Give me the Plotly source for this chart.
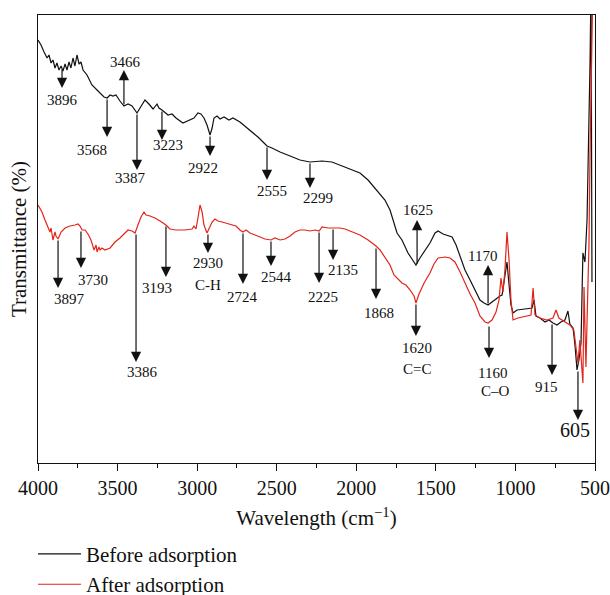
import plotly.graph_objects as go

# ---------------- data (wavenumber cm^-1, transmittance in arbitrary units) ----------------
before_wn = [4000, 3981, 3962, 3943, 3931, 3918, 3906, 3893, 3881, 3868, 3855, 3843, 3830, 3818,
             3805, 3793, 3780, 3768, 3755, 3742, 3730, 3717, 3692, 3661, 3629, 3604, 3585, 3566,
             3547, 3529, 3510, 3485, 3460, 3434, 3409, 3378, 3353, 3328, 3303, 3277, 3252, 3240,
             3221, 3202, 3183, 3158, 3133, 3089, 3051, 3020, 2995, 2976, 2957, 2938, 2919, 2906,
             2894, 2875, 2856, 2831, 2800, 2775, 2731, 2668, 2618, 2586, 2561, 2530, 2479, 2416,
             2354, 2291, 2215, 2153, 2102, 2039, 1977, 1926, 1882, 1851, 1820, 1788, 1763, 1744,
             1713, 1675, 1650, 1625, 1600, 1568, 1537, 1505, 1486, 1455, 1398, 1373, 1348, 1317,
             1285, 1254, 1223, 1197, 1172, 1147, 1116, 1097, 1084, 1072, 1053, 1040, 1028, 1015,
             990, 940, 896, 883, 871, 846, 814, 789, 764, 739, 714, 689, 670, 658, 638, 626, 613,
             601, 588, 576, 563, 550, 538, 531, 525, 519]
before_t = [423, 418, 411, 405, 408, 400, 403, 395, 400, 393, 397, 392, 399, 393,
            401, 395, 405, 397, 408, 399, 401, 393, 388, 378, 373, 369, 366, 365,
            368, 367, 368, 362, 357, 359, 357, 350, 357, 363, 359, 354, 359, 355,
            353, 350, 348, 349, 345, 340, 343, 345, 350, 349, 345, 338, 328, 335,
            345, 347, 344, 346, 343, 345, 341, 333, 326, 321, 317, 315, 311, 307,
            303, 301, 302, 301, 298, 294, 290, 283, 275, 269, 263, 253, 241, 230,
            223, 210, 204, 198, 205, 213, 220, 230, 232, 229, 226, 218, 206, 193,
            183, 173, 163, 160, 158, 161, 165, 167, 168, 181, 201, 178, 158, 150,
            153, 154, 155, 163, 147, 145, 141, 143, 140, 138, 141, 143, 152, 139, 135, 118, 93,
            103, 120, 210, 201, 243, 336, 403, 480, 181]

after_wn = [4000, 3975, 3956, 3937, 3925, 3918, 3906, 3893, 3887, 3874, 3855, 3830, 3799, 3768,
            3748, 3736, 3723, 3704, 3686, 3667, 3648, 3635, 3629, 3617, 3610, 3598, 3579, 3547,
            3516, 3485, 3453, 3434, 3409, 3390, 3372, 3353, 3334, 3321, 3296, 3265, 3233, 3196,
            3171, 3133, 3076, 3032, 3020, 3007, 2995, 2982, 2969, 2957, 2938, 2925, 2906, 2888,
            2869, 2844, 2806, 2756, 2731, 2712, 2693, 2668, 2636, 2605, 2574, 2536, 2511, 2479,
            2448, 2416, 2385, 2354, 2322, 2291, 2259, 2234, 2215, 2177, 2146, 2102, 2071, 2027,
            1977, 1926, 1876, 1851, 1820, 1788, 1763, 1744, 1713, 1688, 1662, 1637, 1625, 1606,
            1574, 1537, 1512, 1486, 1442, 1411, 1380, 1348, 1317, 1285, 1254, 1223, 1191, 1172,
            1147, 1122, 1103, 1091, 1078, 1066, 1053, 1040, 1028, 1015, 984, 940, 902, 889, 877,
            846, 802, 764, 745, 727, 708, 683, 658, 633, 613, 607, 595, 576, 569, 557, 544, 538,
            531, 519, 513]
after_t = [258, 251, 243, 235, 231, 235, 223, 231, 227, 224, 231, 235, 237, 238,
           239, 237, 233, 233, 229, 223, 213, 218, 211, 216, 213, 215, 213, 215,
           221, 225, 230, 233, 232, 230, 238, 246, 251, 248, 247, 245, 242, 238,
           234, 233, 233, 234, 237, 234, 245, 258, 251, 238, 230, 235, 241, 244,
           242, 241, 239, 237, 233, 231, 233, 230, 228, 226, 224, 223, 225, 223,
           224, 227, 231, 233, 233, 232, 233, 232, 236, 235, 235, 235, 234, 231,
           228, 223, 217, 213, 206, 198, 188, 185, 180, 178, 173, 167, 160, 169,
           180, 190, 199, 205, 206, 205, 201, 191, 180, 169, 160, 147, 141, 140,
           143, 151, 163, 185, 171, 193, 231, 203, 163, 143, 145, 147, 148, 175, 148,
           145, 143, 145, 153, 145, 143, 141, 138, 133, 108, 100, 123, 80, 176, 96, 180, 216,
           313, 480, 480]

# ---------------- peak annotations ----------------
# label, arrow x (cm^-1), arrow tail (on curve), arrow head, label x, label y
before_labels = ["3896", "3466", "3568", "3387", "3223", "2922", "2555", "2299", "1625", "1170"]
before_arrow_x = [3849, 3460, 3566, 3378, 3221, 2919, 2561, 2291, 1618, 1172]
before_tail = [395, 357, 365, 350, 353, 328, 317, 301, 198, 158]
before_head = [375, 393, 326, 293, 323, 307, 283, 275, 243, 198]
before_text_x = [3843, 3453, 3661, 3416, 3183, 2963, 2530, 2241, 1612, 1204]
before_text_y = [363, 401, 313, 285, 318, 295, 272, 265, 253, 207]

after_labels = ["3897", "3730", "3386", "3193", "2930", "2724", "2544", "2225", "2135", "1868",
                "1620", "1160", "915"]
after_arrow_x = [3874, 3730, 3384, 3196, 2932, 2712, 2536, 2234, 2146, 1876, 1625, 1166, 770]
after_tail = [224, 233, 230, 238, 230, 231, 223, 232, 235, 216, 160, 138, 140]
after_head = [175, 195, 101, 186, 210, 179, 197, 180, 203, 164, 127, 105, 88]
after_text_x = [3799, 3654, 3346, 3252, 2932, 2712, 2504, 2209, 2083, 1857, 1618, 1147, 802]
after_text_y = [164, 183, 91, 175, 200, 166, 186, 166, 193, 150, 115, 90, 76]

group_labels = ["C-H", "C=C", "C\u2013O"]
group_x = [2932, 1618, 1128]
group_y = [178, 94, 72]

big_label = "605"
big_arrow_x = 607
big_tail = 93
big_head = 43
big_text_x = 626
big_text_y = 33

tick_vals = [4000, 3500, 3000, 2500, 2000, 1500, 1000, 500]
tick_text = [str(v) for v in tick_vals]

FONT = "Liberation Serif"
BLACK = "#111111"
RED = "#e3241b"

fig = go.Figure()
fig.add_trace(go.Scatter(x=before_wn, y=before_t, mode="lines", name="Before adsorption",
                         line=dict(color=BLACK, width=1.2), legendgroup="a"))
fig.add_trace(go.Scatter(x=after_wn, y=after_t, mode="lines", name="After adsorption",
                         line=dict(color=RED, width=1.2), legendgroup="b"))

annotations = []


def arrow(x, tail, head):
    return dict(x=x, y=head, ax=x, ay=tail, xref="x", yref="y", axref="x", ayref="y",
                text="", showarrow=True, arrowhead=2, arrowsize=1.7, arrowwidth=1.2,
                arrowcolor=BLACK)


def label(text, x, y, size=15):
    return dict(x=x, y=y, xref="x", yref="y", text=text, showarrow=False,
                font=dict(family=FONT, size=size, color=BLACK))


for lab, ax_, t, h, tx, ty in zip(before_labels, before_arrow_x, before_tail, before_head,
                                  before_text_x, before_text_y):
    annotations.append(arrow(ax_, t, h))
    annotations.append(label(lab, tx, ty))
for lab, ax_, t, h, tx, ty in zip(after_labels, after_arrow_x, after_tail, after_head,
                                  after_text_x, after_text_y):
    annotations.append(arrow(ax_, t, h))
    annotations.append(label(lab, tx, ty))
for lab, gx, gy in zip(group_labels, group_x, group_y):
    annotations.append(label(lab, gx, gy))
annotations.append(arrow(big_arrow_x, big_tail, big_head))
annotations.append(label(big_label, big_text_x, big_text_y, size=20))

fig.update_layout(
    width=610, height=595,
    margin=dict(l=38, r=15, t=15, b=132, autoexpand=False),
    paper_bgcolor="white", plot_bgcolor="white",
    font=dict(family=FONT, size=16, color=BLACK),
    annotations=annotations,
    showlegend=True,
    legend=dict(x=-0.009, y=-0.158, xanchor="left", yanchor="top", orientation="v",
                font=dict(family=FONT, size=21, color=BLACK), tracegroupgap=0,
                itemwidth=43, bgcolor="rgba(0,0,0,0)"),
    xaxis=dict(range=[4000, 500], tickvals=tick_vals, ticktext=tick_text,
               ticks="outside", ticklen=7, tickwidth=1.2, tickcolor=BLACK,
               minor=dict(dtick=250, ticks="outside", ticklen=4, tickwidth=1.2, tickcolor=BLACK),
               showline=True, linecolor=BLACK, linewidth=1.3, mirror=True,
               showgrid=False, zeroline=False, automargin=False,
               tickfont=dict(family=FONT, size=20, color=BLACK),
               title=dict(text="Wavelength (cm<sup>\u22121</sup>)", standoff=12,
                          font=dict(family=FONT, size=21, color=BLACK))),
    yaxis=dict(range=[0, 448], showticklabels=False, ticks="",
               showline=True, linecolor=BLACK, linewidth=1.3, mirror=True,
               showgrid=False, zeroline=False, automargin=False,
               title=dict(text="Transmittance (%)", standoff=4,
                          font=dict(family=FONT, size=21, color=BLACK))),
)

fig.write_html("out.html")
